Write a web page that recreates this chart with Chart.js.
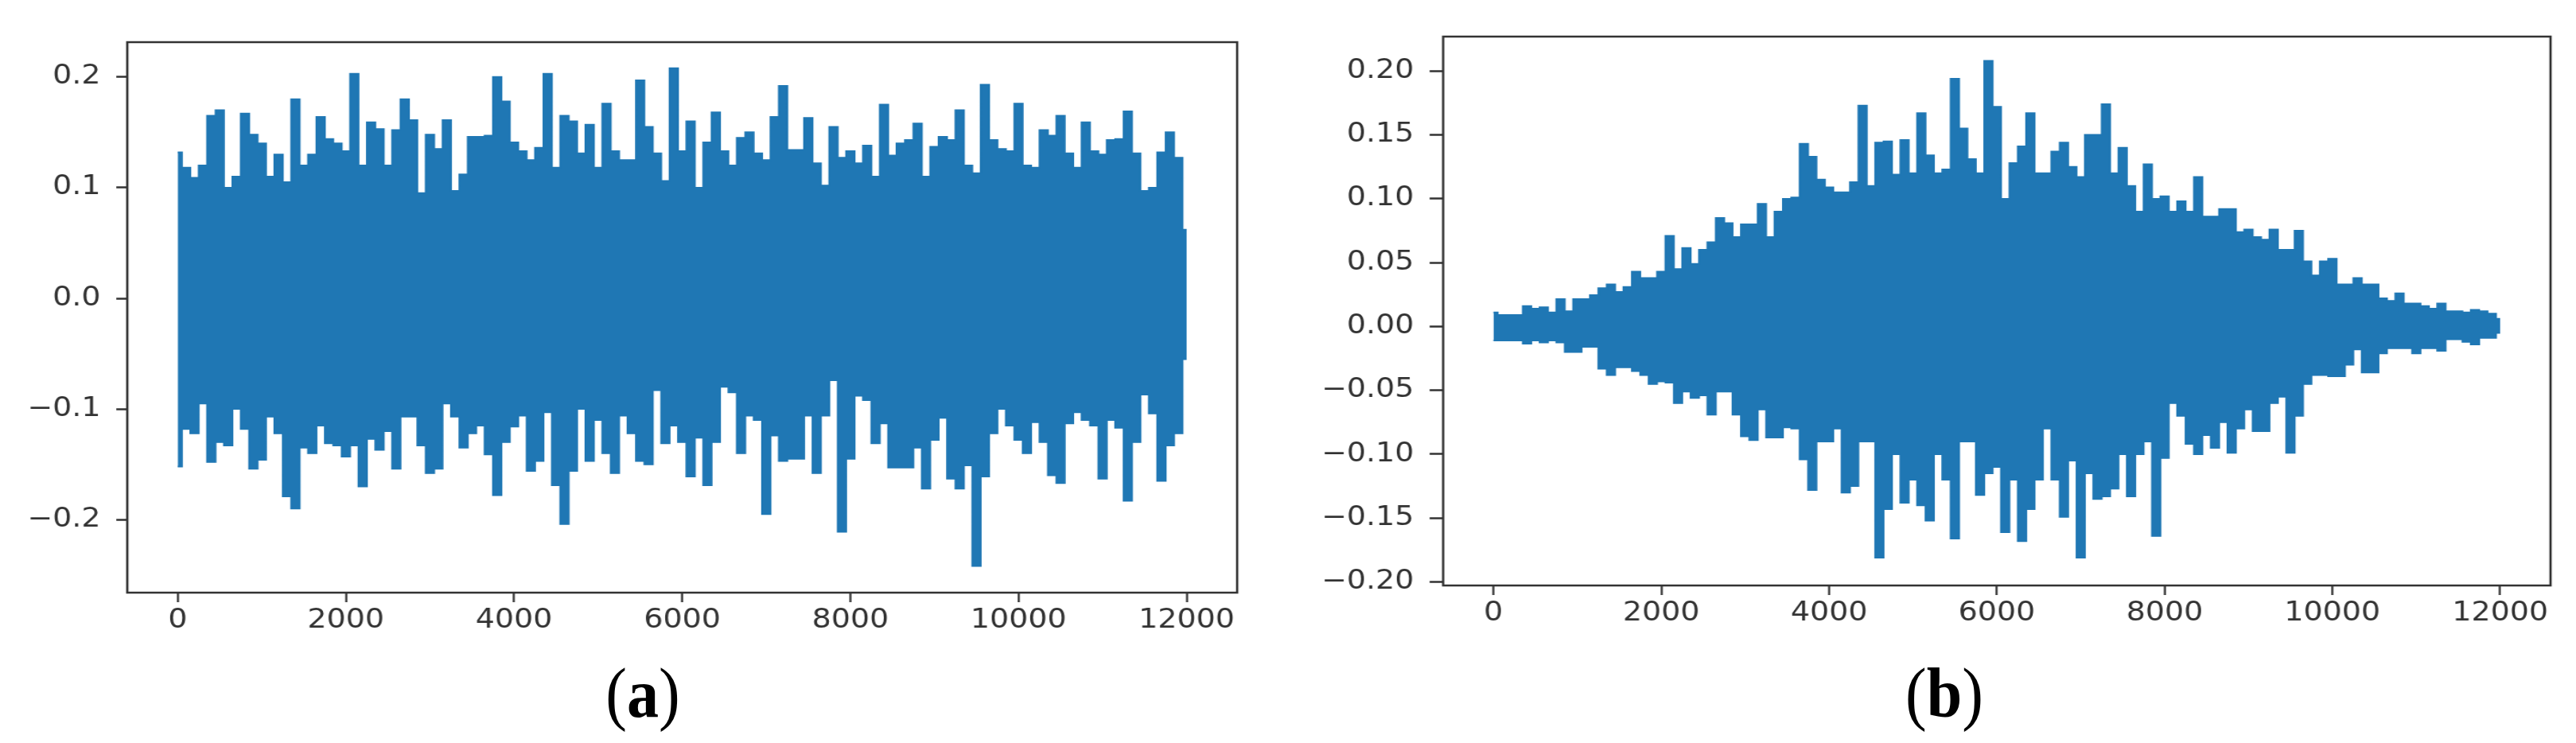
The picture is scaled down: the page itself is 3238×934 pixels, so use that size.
<!DOCTYPE html>
<html>
<head>
<meta charset="utf-8">
<script src="https://cdn.jsdelivr.net/npm/chart.js@4.4.0/dist/chart.umd.min.js"></script>
<style>
  body { margin: 0; background: #fff; width: 3238px; height: 934px; overflow: hidden; position: relative; }
  .panel { position: absolute; top: 0; transform: scaleX(1.15); transform-origin: 0 0; }
  .panel canvas { display: block; }
  .caption { position: absolute; top: 828px; width: 200px; text-align: center; font-family: 'Liberation Serif', serif; font-size: 88px; line-height: 88px; color: #000; transform: scaleX(0.91); }
</style>
</head>
<body>
<div class="panel" style="left:0"><canvas id="chartA" width="1435" height="934"></canvas></div>
<div class="panel" style="left:1650px"><canvas id="chartB" width="1381" height="934"></canvas></div>
<div class="caption" style="left:708px">(<b>a</b>)</div>
<div class="caption" style="left:2344px">(<b>b</b>)</div>
<script>
// envelope of each signal, every 100 samples (0 .. 12000)
const sampleStep = 100;
const xTicks = [0, 2000, 4000, 6000, 8000, 10000, 12000];
const yTicksA = [-0.2, -0.1, 0, 0.1, 0.2];
const yTicksB = [-0.2, -0.15, -0.1, -0.05, 0, 0.05, 0.1, 0.15, 0.2];

// (a) stationary signal
const upperA = [
  0.132, 0.118, 0.109, 0.12, 0.165, 0.17, 0.10, 0.11, 0.167, 0.148,
  0.14, 0.11, 0.13, 0.105, 0.18, 0.12, 0.13, 0.164, 0.144, 0.14,
  0.133, 0.203, 0.12, 0.159, 0.153, 0.12, 0.152, 0.18, 0.161, 0.095,
  0.148, 0.135, 0.161, 0.097, 0.112, 0.146, 0.146, 0.147, 0.2, 0.178,
  0.141, 0.133, 0.125, 0.136, 0.203, 0.118, 0.165, 0.16, 0.131, 0.157,
  0.118, 0.176, 0.133, 0.125, 0.125, 0.197, 0.155, 0.131, 0.106, 0.208,
  0.133, 0.16, 0.1, 0.141, 0.168, 0.133, 0.12, 0.145, 0.15, 0.131,
  0.125, 0.164, 0.192, 0.134, 0.134, 0.163, 0.122, 0.102, 0.155, 0.127,
  0.133, 0.122, 0.138, 0.11, 0.175, 0.129, 0.14, 0.143, 0.158, 0.11,
  0.137, 0.146, 0.143, 0.17, 0.12, 0.113, 0.193, 0.143, 0.135, 0.133,
  0.176, 0.12, 0.118, 0.152, 0.147, 0.165, 0.131, 0.118, 0.159, 0.133,
  0.13, 0.143, 0.144, 0.169, 0.131, 0.097, 0.1, 0.132, 0.15, 0.127,
  0.062
];
const lowerA = [
  -0.152, -0.118, -0.122, -0.095, -0.148, -0.13, -0.133, -0.10, -0.118, -0.154,
  -0.146, -0.107, -0.122, -0.179, -0.19, -0.135, -0.14, -0.115, -0.131, -0.133,
  -0.143, -0.133, -0.17, -0.127, -0.137, -0.12, -0.154, -0.107, -0.107, -0.133,
  -0.158, -0.154, -0.095, -0.107, -0.135, -0.122, -0.115, -0.141, -0.178, -0.13,
  -0.116, -0.106, -0.156, -0.147, -0.103, -0.169, -0.204, -0.156, -0.1, -0.147,
  -0.11, -0.14, -0.158, -0.106, -0.122, -0.147, -0.15, -0.083, -0.131, -0.115,
  -0.13, -0.161, -0.126, -0.169, -0.13, -0.08, -0.085, -0.14, -0.106, -0.11,
  -0.195, -0.124, -0.147, -0.145, -0.145, -0.106, -0.158, -0.106, -0.074, -0.211,
  -0.145, -0.088, -0.092, -0.131, -0.113, -0.153, -0.153, -0.153, -0.135, -0.172,
  -0.128, -0.108, -0.163, -0.172, -0.151, -0.242, -0.161, -0.122, -0.1, -0.115,
  -0.128, -0.14, -0.112, -0.13, -0.16, -0.167, -0.113, -0.103, -0.11, -0.115,
  -0.163, -0.11, -0.117, -0.183, -0.13, -0.087, -0.104, -0.165, -0.133, -0.122,
  -0.055
];

// (b) signal that grows and fades
const upperB = [
  0.011, 0.009, 0.009, 0.009, 0.016, 0.014, 0.015, 0.011, 0.0215, 0.012,
  0.0215, 0.0215, 0.0245, 0.03, 0.033, 0.027, 0.031, 0.043, 0.038, 0.038,
  0.043, 0.071, 0.045, 0.0615, 0.049, 0.06, 0.066, 0.085, 0.081, 0.07,
  0.08, 0.08, 0.096, 0.07, 0.09, 0.1, 0.101, 0.143, 0.133, 0.115,
  0.109, 0.105, 0.105, 0.113, 0.173, 0.11, 0.144, 0.145, 0.119, 0.146,
  0.12, 0.167, 0.134, 0.12, 0.123, 0.194, 0.155, 0.131, 0.12, 0.208,
  0.172, 0.1, 0.128, 0.141, 0.167, 0.12, 0.12, 0.137, 0.144, 0.125,
  0.117, 0.15, 0.15, 0.174, 0.12, 0.14, 0.11, 0.09, 0.127, 0.1,
  0.102, 0.09, 0.098, 0.09, 0.117, 0.086, 0.086, 0.092, 0.092, 0.074,
  0.076, 0.07, 0.068, 0.076, 0.06, 0.06, 0.075, 0.051, 0.04, 0.051,
  0.053, 0.033, 0.033, 0.038, 0.033, 0.033, 0.022, 0.02, 0.026, 0.018,
  0.018, 0.016, 0.014, 0.018, 0.012, 0.012, 0.011, 0.013, 0.012, 0.01,
  0.006
];
const lowerB = [
  -0.011, -0.011, -0.011, -0.011, -0.0135, -0.011, -0.0125, -0.011, -0.0125, -0.02,
  -0.02, -0.016, -0.016, -0.033, -0.038, -0.032, -0.032, -0.035, -0.038, -0.045,
  -0.043, -0.044, -0.06, -0.051, -0.056, -0.054, -0.069, -0.051, -0.051, -0.069,
  -0.086, -0.089, -0.065, -0.087, -0.087, -0.079, -0.08, -0.104, -0.128, -0.09,
  -0.09, -0.08, -0.13, -0.125, -0.09, -0.09, -0.181, -0.143, -0.1, -0.138,
  -0.12, -0.14, -0.152, -0.1, -0.12, -0.166, -0.09, -0.09, -0.132, -0.115,
  -0.11, -0.161, -0.12, -0.168, -0.143, -0.12, -0.08, -0.12, -0.149, -0.105,
  -0.181, -0.115, -0.135, -0.133, -0.127, -0.1, -0.133, -0.1, -0.09, -0.164,
  -0.103, -0.06, -0.07, -0.092, -0.1, -0.085, -0.095, -0.075, -0.099, -0.08,
  -0.065, -0.082, -0.082, -0.06, -0.055, -0.099, -0.07, -0.045, -0.038, -0.038,
  -0.039, -0.039, -0.03, -0.018, -0.036, -0.036, -0.021, -0.017, -0.017, -0.017,
  -0.021, -0.017, -0.017, -0.019, -0.01, -0.01, -0.012, -0.014, -0.009, -0.009,
  -0.005
];

const blue = '#1f77b4';
const axisColor = '#333';

// box round the plot area, like matplotlib draws it
const frame = {
  id: 'frame',
  afterDraw(chart) {
    const a = chart.chartArea;
    const ctx = chart.ctx;
    ctx.save();
    ctx.strokeStyle = axisColor;
    ctx.lineWidth = 2.5;
    ctx.strokeRect(a.left, a.top, a.right - a.left, a.bottom - a.top);
    ctx.restore();
  }
};

function toPoints(values) {
  return values.map((v, i) => ({x: i * sampleStep, y: v}));
}

function signed(v, digits) {
  return (v < 0 ? '\u2212' : '') + Math.abs(v).toFixed(digits);
}

function makeChart(id, upper, lower, yTicks, digits, box) {
  const tickFont = {family: 'DejaVu Sans', size: 33};
  const line = {borderColor: blue, backgroundColor: blue, borderWidth: 2, pointRadius: 0, stepped: 'middle'};

  return new Chart(document.getElementById(id), {
    type: 'line',
    data: {
      datasets: [
        Object.assign({data: toPoints(upper), fill: '+1'}, line),
        Object.assign({data: toPoints(lower), fill: false}, line)
      ]
    },
    options: {
      responsive: false,
      animation: false,
      devicePixelRatio: 1,
      layout: {padding: {top: box.top, right: box.right, left: 0, bottom: 0}},
      plugins: {legend: {display: false}, tooltip: {enabled: false}},
      scales: {
        x: {
          type: 'linear',
          min: -600,
          max: 12600,
          afterBuildTicks: s => { s.ticks = xTicks.map(v => ({value: v})); },
          afterFit: s => { s.height = box.xHeight; },
          border: {display: false},
          grid: {drawOnChartArea: false, drawTicks: true, tickLength: 12, tickWidth: 2.3, tickColor: axisColor},
          ticks: {autoSkip: false, maxRotation: 0, padding: 4, color: axisColor, font: tickFont, callback: v => String(v)}
        },
        y: {
          type: 'linear',
          min: box.yMin,
          max: box.yMax,
          afterBuildTicks: s => { s.ticks = yTicks.map(v => ({value: v})); },
          afterFit: s => { s.width = box.yWidth; },
          border: {display: false},
          grid: {drawOnChartArea: false, drawTicks: true, tickLength: box.yTick, tickWidth: 2.5, tickColor: axisColor},
          ticks: {autoSkip: false, padding: 17, color: axisColor, font: tickFont, callback: v => signed(v, digits)}
        }
      }
    },
    plugins: [frame]
  });
}

makeChart('chartA', upperA, lowerA, yTicksA, 1,
  {top: 53, right: 82.8, xHeight: 189, yWidth: 139.1, yTick: 12, yMin: -0.266, yMax: 0.2315});
makeChart('chartB', upperB, lowerB, yTicksB, 2,
  {top: 46, right: 28, xHeight: 198, yWidth: 142.6, yTick: 14.8, yMin: -0.2028, yMax: 0.227});
</script>
</body>
</html>
